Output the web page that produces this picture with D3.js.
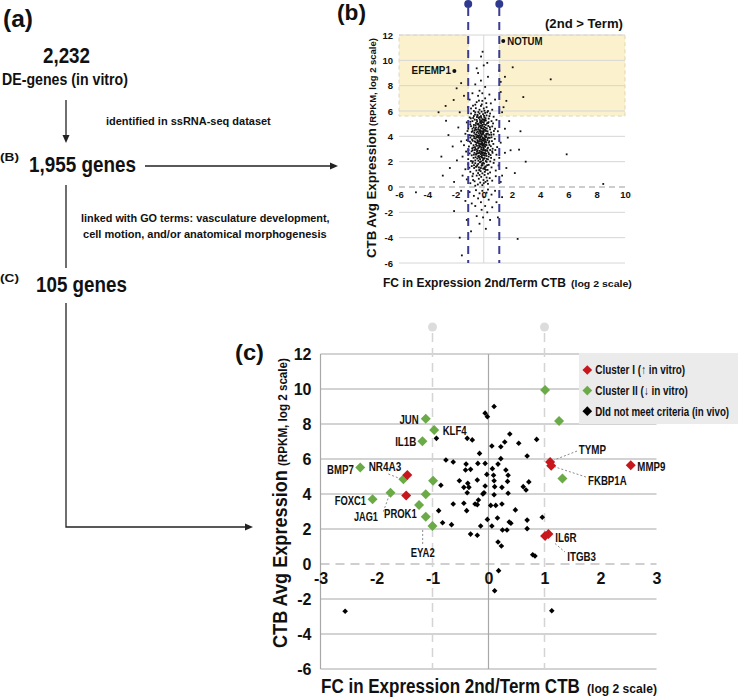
<!DOCTYPE html>
<html><head><meta charset="utf-8">
<script src="https://cdn.jsdelivr.net/npm/d3@7"></script>
<style>
body{margin:0;background:#fff;}
svg text{font-family:'Liberation Sans Narrow','Arial Narrow','Liberation Sans',Arial,sans-serif;font-weight:bold;fill:#111;}
</style></head><body>
<svg id="fig" width="738" height="698"></svg>
<script>
// ---------------- DATA ----------------
// Panel (b)
const bTicksX = [-6,-4,-2,0,2,4,6,8,10];
const bTicksY = [-6,-4,-2,0,2,4,6,8,10,12];
const bFCThresholds = [-1.1, 1.1];
const bExprThreshold = 5.6;
const bHighlight = [{gene:"NOTUM",x:1.38,y:11.52},{gene:"EFEMP1",x:-2.08,y:9.16}];
const bPoints = [
[-0.9,6.2],[-0.6,6.5],[-0.3,6.1],[-0.1,6.8],[0.2,6.3],[0.5,6.6],[-1.0,6.9],[-0.4,7.2],[0.1,7.0],[-0.7,6.0],[0.3,6.0],[-0.2,6.4],[0.6,6.1],[-0.5,6.7],[0.0,6.2],[-1.1,6.3],[0.8,6.9],[-0.8,7.4],[0.4,7.3],[-0.3,7.6],[0.1,7.9],[-0.6,8.1],[-0.2,8.4],[0.3,8.7],[-0.4,9.0],[0.0,9.6],[-0.1,7.4],
[-1.2,5.1],[-1.0,5.5],[-0.9,5.8],[-0.8,5.2],[-0.7,5.6],[-0.6,5.9],[-0.5,5.3],[-0.45,5.7],[-0.4,5.0],[-0.35,5.45],[-0.3,5.8],[-0.25,5.2],[-0.2,5.6],[-0.15,5.95],[-0.1,5.35],[-0.05,5.75],[0.0,5.1],[0.05,5.5],[0.1,5.85],[0.15,5.25],[0.2,5.65],[0.3,5.05],[0.35,5.4],[0.45,5.8],[0.55,5.2],[0.7,5.55],[0.9,5.3],[-0.55,5.05],[-0.75,5.45],[-0.95,5.15],[-0.28,5.32],[-0.12,5.12],[0.08,5.32],[-0.62,5.72],[-0.38,5.92],[0.25,5.9],[-0.18,5.48],[0.02,5.62],[-0.48,5.52],[0.4,5.6],
[-1.3,4.2],[-1.1,4.6],[-1.0,4.1],[-0.9,4.8],[-0.85,4.35],[-0.8,4.6],[-0.75,4.05],[-0.7,4.9],[-0.65,4.45],[-0.6,4.15],[-0.55,4.7],[-0.5,4.3],[-0.45,4.95],[-0.42,4.05],[-0.4,4.55],[-0.35,4.25],[-0.32,4.8],[-0.3,4.1],[-0.27,4.5],[-0.24,4.85],[-0.2,4.25],[-0.18,4.65],[-0.15,4.02],[-0.12,4.4],[-0.1,4.9],[-0.07,4.18],[-0.04,4.6],[0.0,4.35],[0.03,4.75],[0.06,4.08],[0.1,4.5],[0.14,4.9],[0.18,4.2],[0.22,4.62],[0.27,4.4],[0.32,4.82],[0.38,4.12],[0.45,4.55],[0.52,4.3],[0.6,4.78],[0.7,4.15],[0.8,4.6],[1.0,4.4],[-0.58,4.88],[-0.22,4.42],[-0.05,4.28],[0.12,4.68],[-0.37,4.68],[-0.68,4.28],[0.02,4.95],
[-1.4,3.3],[-1.2,3.7],[-1.05,3.2],[-0.95,3.9],[-0.9,3.45],[-0.82,3.05],[-0.78,3.65],[-0.72,3.3],[-0.68,3.85],[-0.62,3.15],[-0.58,3.55],[-0.52,3.95],[-0.48,3.25],[-0.45,3.7],[-0.4,3.05],[-0.37,3.45],[-0.34,3.88],[-0.3,3.2],[-0.27,3.6],[-0.24,3.98],[-0.21,3.35],[-0.18,3.75],[-0.15,3.1],[-0.12,3.5],[-0.09,3.9],[-0.06,3.25],[-0.03,3.65],[0.0,3.02],[0.03,3.42],[0.06,3.82],[0.1,3.18],[0.13,3.58],[0.17,3.95],[0.2,3.3],[0.25,3.7],[0.3,3.1],[0.36,3.5],[0.42,3.88],[0.5,3.22],[0.58,3.62],[0.68,3.4],[0.78,3.8],[0.95,3.15],[1.2,3.5],[-0.55,3.35],[-0.33,3.3],[-0.16,3.42],[0.08,3.55],[-0.42,3.55],[-0.26,3.78],[-0.08,3.68],[0.15,3.35],[-0.64,3.6],[-0.02,3.85],[0.32,3.9],
[-1.5,2.4],[-1.25,2.8],[-1.1,2.2],[-1.0,2.65],[-0.9,2.05],[-0.85,2.5],[-0.78,2.9],[-0.72,2.3],[-0.66,2.7],[-0.6,2.1],[-0.55,2.55],[-0.5,2.95],[-0.46,2.25],[-0.42,2.65],[-0.38,2.08],[-0.34,2.45],[-0.3,2.85],[-0.26,2.2],[-0.22,2.6],[-0.18,2.98],[-0.14,2.35],[-0.1,2.75],[-0.06,2.12],[-0.02,2.52],[0.02,2.9],[0.06,2.28],[0.1,2.68],[0.15,2.05],[0.2,2.45],[0.25,2.85],[0.3,2.18],[0.37,2.6],[0.45,2.92],[0.52,2.3],[0.62,2.7],[0.75,2.15],[0.9,2.55],[1.1,2.3],[1.5,2.7],[-0.48,2.78],[-0.2,2.4],[0.0,2.7],[-0.35,2.68],[-0.08,2.3],[0.13,2.85],[-0.7,2.55],[0.35,2.4],[-0.58,2.35],[-0.12,2.62],[0.08,2.48],
[-1.3,1.4],[-1.1,1.8],[-0.95,1.2],[-0.85,1.65],[-0.75,1.05],[-0.68,1.5],[-0.6,1.88],[-0.52,1.3],[-0.46,1.72],[-0.4,1.1],[-0.34,1.55],[-0.28,1.95],[-0.22,1.25],[-0.16,1.68],[-0.1,1.08],[-0.04,1.45],[0.02,1.85],[0.08,1.2],[0.14,1.6],[0.2,1.98],[0.27,1.35],[0.35,1.75],[0.45,1.15],[0.55,1.55],[0.7,1.9],[0.85,1.3],[1.05,1.7],[-0.3,1.38],[-0.12,1.82],[0.05,1.52],[-0.55,1.6],[0.3,1.05],[-0.2,1.5],[0.15,1.35],[-0.8,1.9],
[-1.2,0.6],[-0.95,0.3],[-0.8,0.85],[-0.65,0.45],[-0.5,0.9],[-0.42,0.2],[-0.35,0.65],[-0.25,0.35],[-0.18,0.8],[-0.1,0.15],[-0.02,0.55],[0.06,0.95],[0.12,0.4],[0.2,0.75],[0.3,0.25],[0.42,0.7],[0.6,0.5],[0.85,0.85],[-0.6,0.1],[0.0,0.3],[-0.3,0.95],[0.25,0.5],[-1.5,0.9],[1.2,0.4],[-0.75,0.55],
[-1.0,-0.4],[-0.7,-0.7],[-0.55,-0.25],[-0.4,-0.9],[-0.3,-0.5],[-0.2,-1.2],[-0.1,-0.3],[0.0,-0.8],[0.1,-1.5],[0.2,-0.45],[0.35,-1.0],[0.55,-0.6],[0.8,-0.3],[-0.85,-1.3],[-0.15,-1.8],[0.25,-2.0],[-0.5,-2.3],[0.45,-2.6],[-0.3,-2.9],[0.6,-1.6],[-1.3,-1.1],[-2.1,-1.9],[-1.7,-4.0],[-1.55,-5.4],[2.4,-4.1],[-0.9,-3.5],[0.15,-3.3],[1.0,-2.4],[-1.6,-0.3],[-1.2,-2.6],[0.9,-1.2],[-0.05,-2.4],[0.3,-0.2],[-0.6,-1.5],[1.3,-0.8],
[-2.67,5.23],[-2.13,6.87],[-1.92,7.79],[-3.97,3.0],[-2.5,4.1],[-2.2,3.2],[-1.9,2.1],[-1.8,4.7],[-2.4,1.5],[-3.0,2.4],[-1.7,5.9],[-2.9,0.9],[-2.1,0.4],[-1.6,3.6],[-4.8,-0.42],[1.3,5.9],[1.5,4.6],[1.4,6.3],[1.7,3.9],[1.9,2.9],[2.5,2.95],[2.97,2.0],[2.2,1.1],[1.6,1.5],[1.2,7.5],[1.5,8.7],[2.05,9.45],[4.74,8.5],[5.87,2.58],[8.46,0.24],[1.8,5.2],[1.1,9.2],[1.3,0.9],[2.6,4.4],[-1.4,7.2],[-1.6,8.2],[-0.5,9.37],[-0.08,10.68],[-0.19,10.3],[0.25,9.8],[1.2,8.3],[-2.7,6.4],[-3.2,5.9],[2.8,7.1],[1.6,6.8],
[-0.95,4.95],[-0.88,4.05],[-0.83,3.75],[-0.79,4.42],[-0.74,3.12],[-0.71,4.72],[-0.67,3.98],[-0.63,2.92],[-0.61,4.58],[-0.57,3.82],[-0.53,2.62],[-0.51,4.12],[-0.49,3.48],[-0.47,5.18],[-0.44,2.88],[-0.43,4.38],[-0.41,3.62],[-0.39,1.82],[-0.36,4.92],[-0.35,3.12],[-0.33,2.32],[-0.31,4.42],[-0.29,3.72],[-0.28,2.72],[-0.26,5.08],[-0.25,3.92],[-0.23,1.98],[-0.22,3.18],[-0.21,4.72],[-0.19,2.82],[-0.17,4.12],[-0.16,3.62],[-0.14,5.22],[-0.13,2.48],[-0.11,3.32],[-0.1,4.62],[-0.09,1.72],[-0.07,3.82],[-0.06,2.92],[-0.04,4.22],[-0.03,3.12],[-0.01,5.32],[0.0,2.22],[0.02,3.72],[0.04,4.52],[0.05,2.62],[0.07,3.22],[0.09,4.02],[0.11,1.62],[0.12,3.92],[0.14,2.92],[0.16,4.42],[0.19,3.52],[0.21,2.22],[0.23,5.02],[0.26,3.02],[0.29,4.22],[0.33,2.72],[0.39,3.62],[0.43,4.72],[0.48,2.52],[0.55,3.92],[0.63,3.02],[0.72,4.42],
[-0.86,2.82],[-0.77,2.02],[-0.69,1.72],[-0.64,5.32],[-0.59,3.02],[-0.54,4.52],[-0.5,1.62],[-0.46,3.92],[-0.44,5.62],[-0.4,2.42],[-0.37,4.02],[-0.32,1.32],[-0.3,5.52],[-0.27,3.42],[-0.24,4.32],[-0.2,2.02],[-0.18,5.02],[-0.15,2.72],[-0.12,4.82],[-0.08,3.42],[-0.05,1.92],[-0.02,4.42],[0.01,3.32],[0.04,5.22],[0.07,1.42],[0.1,3.72],[0.13,5.42],[0.17,2.62],[0.2,4.12],[0.24,1.72],[0.28,3.82],[0.34,5.12],[0.4,3.32],[0.46,2.02],[0.53,4.12],[0.6,2.82],[-0.98,3.58],[-1.08,2.92],[-1.15,4.42],[-1.02,1.52],[-0.92,5.42],[0.82,2.92],[0.66,5.02],[-0.56,6.22],[-0.14,6.52],[0.18,6.62],[-0.34,6.82],[0.05,6.02],[-0.76,6.42]
];

// Panel (c)
const cTicksX = [-3,-2,-1,0,1,2,3];
const cTicksY = [-6,-4,-2,0,2,4,6,8,10,12];
const cFCThresholds = [-1, 1];
const clusterI = [[-1.45,5.09],[-1.47,3.92],[1.10,5.83],[1.12,5.62],[2.54,5.64],[1.01,1.60],[1.07,1.71]];
const clusterII = [[-1.12,8.30],[-0.97,7.66],[-1.18,7.01],[-2.29,5.52],[-1.52,4.84],[-0.99,4.76],[-1.75,4.07],[-1.12,3.98],[-2.07,3.70],[-1.24,3.37],[-1.12,2.70],[-1.00,2.17],[1.01,9.94],[1.26,8.17],[1.32,4.88]];
const notMet = [[-0.06,8.62],[-0.02,8.42],[0.10,9.0],[-0.93,7.18],[-0.38,7.18],[-0.29,7.09],[0.38,7.43],[0.29,6.97],[0.54,6.9],[0.86,7.12],[0.06,6.74],[0.22,6.7],[-0.16,6.32],[0.69,6.17],[0.22,6.02],[-0.76,5.94],[-0.63,5.83],[-0.4,5.71],[-0.19,5.75],[-0.06,5.75],[0.17,5.71],[-0.41,5.37],[-0.32,5.41],[0.07,5.45],[0.31,5.37],[-0.03,5.12],[0.09,5.07],[0.35,5.07],[-0.52,4.76],[-0.2,4.8],[0.1,4.76],[0.34,4.72],[0.72,4.69],[-0.37,4.61],[-0.06,4.46],[0.11,4.42],[0.24,4.38],[0.62,4.42],[-0.85,4.5],[-0.44,4.38],[-0.35,4.38],[-0.38,4.07],[-0.1,4.0],[-0.08,4.07],[0.1,3.96],[0.35,4.04],[0.67,4.23],[-0.63,3.43],[-0.44,3.47],[-0.24,3.43],[-0.2,3.39],[-0.18,3.66],[0.04,3.35],[0.13,3.35],[0.24,3.43],[-0.39,3.05],[-0.89,3.05],[0.48,3.09],[-0.02,2.55],[0.16,2.63],[0.4,2.33],[0.37,2.4],[0.69,2.51],[0.96,2.67],[-0.82,2.36],[-0.66,2.25],[-0.14,2.17],[0.06,2.17],[0.25,1.94],[0.33,1.94],[0.69,2.02],[-0.32,1.71],[-0.2,1.64],[0.17,1.26],[0.23,1.03],[0.79,0.53],[0.83,0.46],[0.18,-0.38],[0.11,-1.53],[-2.56,-2.7],[1.13,-2.67]];
const cLabels = [
 {gene:"JUN",x:-1.12,y:8.30},{gene:"KLF4",x:-0.97,y:7.66},{gene:"IL1B",x:-1.18,y:7.01},
 {gene:"BMP7",x:-2.29,y:5.52},{gene:"NR4A3",x:-1.52,y:4.84},{gene:"FOXC1",x:-2.07,y:3.70},
 {gene:"JAG1",x:-1.75,y:4.07},{gene:"PROK1",x:-1.24,y:3.37},{gene:"EYA2",x:-1.12,y:2.70},
 {gene:"TYMP",x:1.10,y:5.83},{gene:"FKBP1A",x:1.12,y:5.62},{gene:"MMP9",x:2.54,y:5.64},
 {gene:"IL6R",x:1.07,y:1.71},{gene:"ITGB3",x:1.01,y:1.60}];
const legendItems = ["Cluster I (\u2191 in vitro)","Cluster II (\u2193 in vitro)","DId not meet criteria (in vivo)"];

// ---------------- LAYOUT (pixel offsets / styles) ----------------
const labelLayout = {
 JUN:{a:"end",dx:-7,dy:5,w:19.3}, KLF4:{a:"start",dx:8.5,dy:5,w:24}, IL1B:{a:"end",dx:-6,dy:4.5,w:21.3},
 BMP7:{a:"end",dx:-6.5,dy:6.5,w:26.7}, NR4A3:{a:"start",dx:-34.7,dy:-8.3,w:32.7,lead:[[-15,-5.3],[-2.4,-0.3]]},
 FOXC1:{a:"end",dx:-6.5,dy:5.5,w:31.3}, JAG1:{a:"start",dx:-36.5,dy:28.7,w:24,lead:[[-7.2,18.9],[-1.5,3.2]]},
 PROK1:{a:"start",dx:-35,dy:12.5,w:32.7}, EYA2:{a:"start",dx:-15.1,dy:40.3,w:24,lead:[[-3.1,27.2],[-3.1,13.2]]},
 TYMP:{a:"start",dx:28.6,dy:-8.4,w:27.3,lead:[[26.9,-10.9],[4,-2]]}, FKBP1A:{a:"start",dx:36.8,dy:19.4,w:38.7,lead:[[34.8,11.4],[3.8,1.3]]},
 MMP9:{a:"start",dx:6.6,dy:5.7,w:28}, IL6R:{a:"start",dx:6.9,dy:7.9,w:21.3},
 ITGB3:{a:"start",dx:22.2,dy:25,w:28.7,lead:[[9.9,7.5],[19.9,16]]}
};
const RED="#c8161d", GREEN="#6aaa47";
const fmtInt = d=>String(d);

const svg = d3.select("#fig");
svg.append("rect").attr("width",738).attr("height",698).attr("fill","#fff");

// text drawn at its natural size, then squeezed horizontally to the measured width
function txt(g,s,x,y,size,len,opt={}){
  const t=g.append("text").attr("x",0).attr("y",0).attr("font-size",size).text(s);
  if(opt.anchor) t.attr("text-anchor",opt.anchor);
  let k=1;
  if(len){ const w0=t.node().getComputedTextLength(); if(w0>0) k=len/w0; }
  const rot = opt.rotate ? ` rotate(${opt.rotate})` : "";
  t.attr("transform",`translate(${x},${y})${rot} scale(${k},1)`);
  return t;
}

// ---------------- PANEL (a) flow chart ----------------
const A = svg.append("g");
txt(A,"(a)",3,27,24,30);
txt(A,"2,232",43,63,22,47);
txt(A,"DE-genes (in vitro)",2,84.5,16,126);
txt(A,"identified in ssRNA-seq dataset",106,124.5,11,165);
txt(A,"(B)",0,161,10,19);
txt(A,"1,955 genes",29,172,22,107);
txt(A,"linked with GO terms: vasculature development,",81,222,11,249);
txt(A,"cell motion, and/or anatomical morphogenesis",83,237.5,11,244);
txt(A,"(C)",0,282,10,19);
txt(A,"105 genes",36,292,22,91);
const ln = (g,pts)=>g.append("path").attr("d",d3.line()(pts)).attr("fill","none").attr("stroke","#222").attr("stroke-width",1.3);
const head=(g,tip,dir)=>{
  const [x,y]=tip; const p = dir==="down"? [[x,y],[x-3.5,y-8],[x+3.5,y-8]] : [[x,y],[x-8,y-3.5],[x-8,y+3.5]];
  g.append("path").attr("d",d3.line()(p)+"Z").attr("fill","#222");
};
ln(A,[[66,100],[66,137]]); head(A,[66,143],"down");
ln(A,[[145,166],[331,166]]); head(A,[338,166],"right");
ln(A,[[66,185],[66,268]]);
ln(A,[[66,303],[66,527],[246,527]]); head(A,[253,527],"right");

// ---------------- PANEL (b) ----------------
const B = svg.append("g");
const xB = d3.scaleLinear().domain([-6,10]).range([399,625]);
const yB = d3.scaleLinear().domain([-6,12]).range([263,35]);
[[-6,bFCThresholds[0]],[bFCThresholds[1],10]].forEach(([a,b])=>{
  B.append("rect").attr("x",xB(a)).attr("y",yB(12)).attr("width",xB(b)-xB(a)).attr("height",yB(bExprThreshold)-yB(12))
   .attr("fill","#fbf2cd").attr("stroke","#d8cfa8").attr("stroke-width",0.8).attr("stroke-dasharray","4,3");
});
B.selectAll("line.gy").data(bTicksY.filter(d=>d!==0)).join("line").attr("x1",xB(-6)).attr("x2",xB(10))
 .attr("y1",d=>yB(d)).attr("y2",d=>yB(d)).attr("stroke","#d6d6d6").attr("stroke-width",1);
B.append("line").attr("x1",xB(0)).attr("x2",xB(0)).attr("y1",yB(12)).attr("y2",yB(-6)).attr("stroke","#d6d6d6");
B.append("line").attr("x1",xB(-6)).attr("x2",xB(10)).attr("y1",yB(0)).attr("y2",yB(0)).attr("stroke","#9a9a9a").attr("stroke-dasharray","6,4");
B.selectAll("rect.pt").data(bPoints).join("rect").attr("x",d=>xB(d[0])-0.9).attr("y",d=>yB(d[1])-0.9)
 .attr("width",1.8).attr("height",1.8).attr("fill","#111");
bFCThresholds.forEach(v=>{
  B.append("line").attr("x1",xB(v)).attr("x2",xB(v)).attr("y1",8).attr("y2",yB(-6)).attr("stroke","#3a3d92").attr("stroke-width",2).attr("stroke-dasharray","8,6");
  B.append("circle").attr("cx",xB(v)).attr("cy",4).attr("r",4).attr("fill","#2f3a8f");
});
B.selectAll("circle.hl").data(bHighlight).join("circle").attr("cx",d=>xB(d.x)).attr("cy",d=>yB(d.y)).attr("r",2).attr("fill","#111");
txt(B,"NOTUM",xB(1.38)+4,yB(11.52)+4,10,35.3);
txt(B,"EFEMP1",xB(-2.08)-3.5,yB(9.16)+3.5,10,39.3,{anchor:"end"});
const axB = B.append("g").attr("transform",`translate(${xB(-6)},0)`).call(d3.axisLeft(yB).tickValues(bTicksY).tickFormat(fmtInt).tickSize(0).tickPadding(6));
axB.select(".domain").remove();
axB.selectAll("text").attr("font-size",9.5);
const axBx = B.append("g").attr("transform",`translate(0,${yB(0)})`).call(d3.axisBottom(xB).tickValues(bTicksX).tickFormat(fmtInt).tickSize(0).tickPadding(4));
axBx.select(".domain").remove();
axBx.selectAll("text").attr("font-size",9.5);
txt(B,"(b)",337,20,22,29);
txt(B,"(2nd > Term)",545,28,12.5,78);
txt(B,"CTB Avg Expression",376,258,13,130,{rotate:-90});
txt(B,"(RPKM, log 2 scale)",376,126,9.5,88,{rotate:-90});
txt(B,"FC in Expression 2nd/Term CTB",383,287,13,183);
txt(B,"(log 2 scale)",571,287,9.5,61);

// ---------------- PANEL (c) ----------------
const C = svg.append("g");
const xC = d3.scaleLinear().domain([-3,3]).range([320.5,656.5]);
const yC = d3.scaleLinear().domain([-6,12]).range([669,354]);
C.selectAll("line.gy").data(cTicksY.filter(d=>d!==0)).join("line").attr("x1",xC(-3)).attr("x2",xC(3))
 .attr("y1",d=>yC(d)).attr("y2",d=>yC(d)).attr("stroke","#a8a8a8").attr("stroke-width",1.2);
C.append("line").attr("x1",xC(-3)).attr("x2",xC(-3)).attr("y1",yC(12)).attr("y2",yC(-6)).attr("stroke","#a8a8a8").attr("stroke-width",1.2);
C.append("line").attr("x1",xC(0)).attr("x2",xC(0)).attr("y1",yC(12)).attr("y2",yC(-6)).attr("stroke","#a8a8a8").attr("stroke-width",1.2);
C.append("line").attr("x1",xC(-3)).attr("x2",xC(3)).attr("y1",yC(0)).attr("y2",yC(0)).attr("stroke","#a0a0a0").attr("stroke-width",1.2).attr("stroke-dasharray","9,6");
cFCThresholds.forEach(v=>{
  C.append("line").attr("x1",xC(v)).attr("x2",xC(v)).attr("y1",333).attr("y2",yC(-6)).attr("stroke","#d4d4d4").attr("stroke-width",1.5).attr("stroke-dasharray","9,6");
  C.append("circle").attr("cx",xC(v)).attr("cy",327).attr("r",4.5).attr("fill","#dcdcdc");
});
const Lg = C.append("g");
Lg.append("rect").attr("x",579).attr("y",353).attr("width",159).attr("height",71).attr("fill","#ebebeb");
const sym = s=>d3.symbol().type(d3.symbolDiamond2).size(s)();
const legCols=[RED,GREEN,"#000"], legLen=[90,92.7,134];
legendItems.forEach((s,i)=>{
  const y=370+i*20.6;
  Lg.append("path").attr("d",sym(60)).attr("transform",`translate(587.3,${y})`).attr("fill",legCols[i]);
  txt(Lg,s,595.3,y+4.3,12,legLen[i]).attr("fill","#1a1a1a");
});
cLabels.forEach(d=>{
  const L=labelLayout[d.gene]; if(!L.lead) return;
  const px=xC(d.x), py=yC(d.y);
  C.append("line").attr("x1",px+L.lead[0][0]).attr("y1",py+L.lead[0][1]).attr("x2",px+L.lead[1][0]).attr("y2",py+L.lead[1][1])
   .attr("stroke","#8a8a8a").attr("stroke-width",1).attr("stroke-dasharray","2,2");
});
C.selectAll("path.nm").data(notMet).join("path").attr("d",sym(20)).attr("transform",d=>`translate(${xC(d[0])},${yC(d[1])})`).attr("fill","#000");
C.selectAll("path.g2").data(clusterII).join("path").attr("d",sym(64)).attr("transform",d=>`translate(${xC(d[0])},${yC(d[1])})`).attr("fill",GREEN);
C.selectAll("path.g1").data(clusterI).join("path").attr("d",sym(64)).attr("transform",d=>`translate(${xC(d[0])},${yC(d[1])})`).attr("fill",RED);
cLabels.forEach(d=>{
  const L=labelLayout[d.gene];
  txt(C,d.gene,xC(d.x)+L.dx,yC(d.y)+L.dy,12,L.w,{anchor:L.a});
});
const axC = C.append("g").attr("transform",`translate(${xC(-3)},0)`).call(d3.axisLeft(yC).tickValues(cTicksY).tickFormat(fmtInt).tickSize(0).tickPadding(9));
axC.select(".domain").remove();
axC.selectAll("text").attr("font-size",16);
const axCx = C.append("g").attr("transform",`translate(0,${yC(0)})`).call(d3.axisBottom(xC).tickValues(cTicksX).tickFormat(fmtInt).tickSize(0).tickPadding(9));
axCx.select(".domain").remove();
axCx.selectAll("text").attr("font-size",16);
txt(C,"(c)",235,360,22,29);
txt(C,"CTB Avg Expression",287,648,20,178,{rotate:-90});
txt(C,"(RPKM, log 2 scale)",287,466,13,108,{rotate:-90});
txt(C,"FC in Expression 2nd/Term CTB",321,693,20,259);
txt(C,"(log 2 scale)",587,693,13,70);
</script>
</body></html>
